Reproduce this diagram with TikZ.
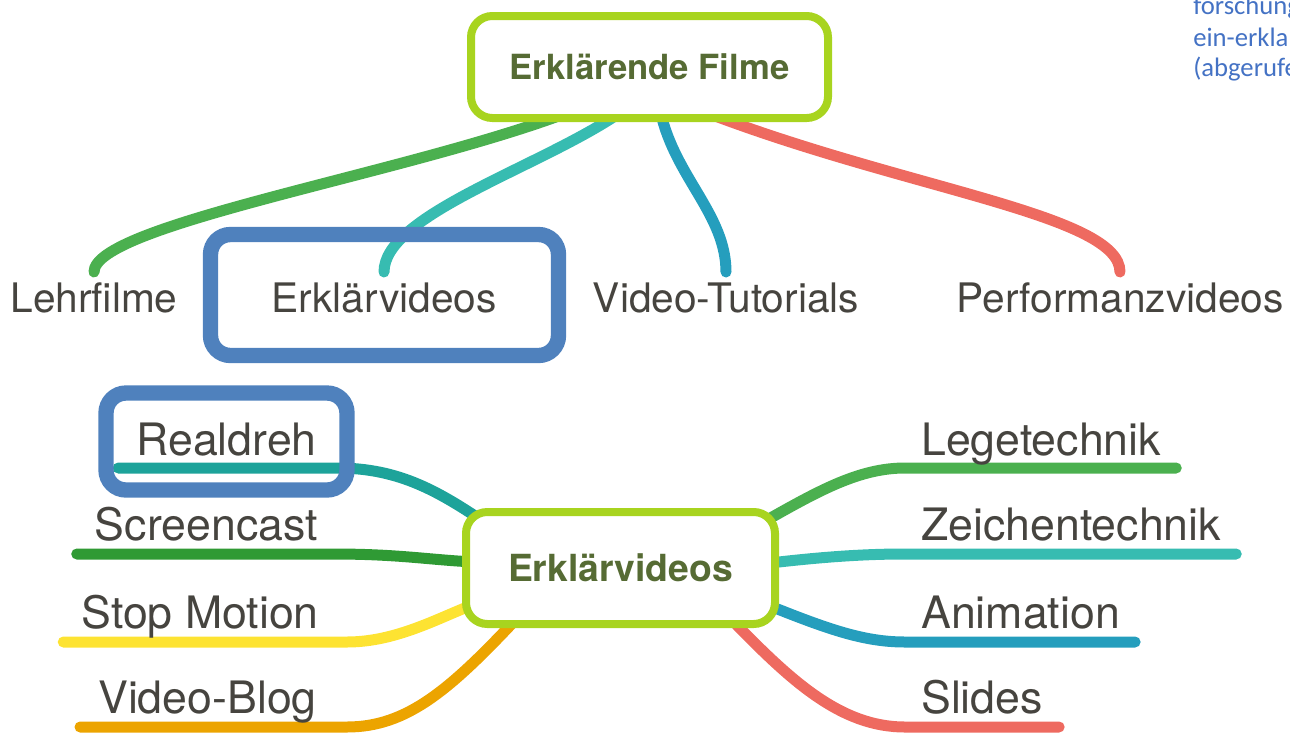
\documentclass[tikz,border=0pt]{standalone}
\usepackage{fontspec}
\setmainfont{TeX Gyre Heros}
\newfontfamily\notefont{Carlito}
\usetikzlibrary{positioning,calc,backgrounds}
\definecolor{cLime}{HTML}{A8D41F}
\definecolor{cHead}{HTML}{566B34}
\definecolor{cText}{HTML}{46443F}
\definecolor{cGreen}{HTML}{4BB04F}
\definecolor{cTeal}{HTML}{37BCB1}
\definecolor{cBlue}{HTML}{259EBD}
\definecolor{cRed}{HTML}{EE6A60}
\definecolor{cReal}{HTML}{1DA39A}
\definecolor{cScr}{HTML}{2F9A34}
\definecolor{cYel}{HTML}{FDE332}
\definecolor{cOra}{HTML}{ECA400}
\definecolor{cMark}{HTML}{4F81BD}
\definecolor{cNote}{HTML}{4472C4}
\tikzset{
box/.style={rectangle,draw=cLime,line width=6pt,fill=white,rounded corners=16pt,
  text=cHead,font=\fontsize{26}{31}\selectfont\bfseries},
lbl/.style={inner sep=0pt,text=cText,font=\fontsize{30.5}{36}\selectfont},
sub/.style={inner sep=0pt,text=cText,font=\fontsize{33.5}{40}\selectfont},
br/.style={line width=8.25pt,line cap=round},
hl/.style={rectangle,draw=cMark,line width=11.5pt,rounded corners=15pt,inner sep=0pt},
note/.style={inner sep=0pt,anchor=base west,text=cNote,font=\notefont\fontsize{20}{24}\selectfont},
}
\begin{document}
\begin{tikzpicture}[x=0.75pt,y=-0.75pt]
\path[use as bounding box,clip] (0,0) rectangle (1290,733);

% main boxes
\node[box,minimum width=267.75pt,minimum height=76.5pt] (top) at (649.5,67) {Erklärende Filme};
\node[box,minimum width=231.75pt,minimum height=84pt,font=\fontsize{28}{33}\selectfont\bfseries] (ev) at (620.5,568) {Erklärvideos};

% upper row
\node[lbl,anchor=base] (lehr) at (94,312) {Lehrfilme};
\node[lbl,anchor=base] (erkl) at (384,312) {Erklärvideos};
\node[lbl,anchor=base] (tut) at (726,312) {Video-Tutorials};
\node[lbl,anchor=base] (perf) at (1120,312) {Performanzvideos};

% lower branches
\node[sub,anchor=base east] (real) at (317,455) {Realdreh};
\node[sub,anchor=base east] (scr) at (318,540) {Screencast};
\node[sub,anchor=base east] (stop) at (319,628) {Stop Motion};
\node[sub,anchor=base east] (blog) at (317,713) {Video-Blog};
\node[sub,anchor=base west] (lege) at (921,455) {Legetechnik};
\node[sub,anchor=base west] (zei) at (921,540) {Zeichentechnik};
\node[sub,anchor=base west] (ani) at (921,628) {Animation};
\node[sub,anchor=base west] (sli) at (921,713) {Slides};

\begin{scope}[on background layer]
\draw[br,cGreen] ($(top.south)+(-85.5,-8)$) .. controls +(-164,61) and +(0,-47) .. ($(lehr.base)+(0,-40)$);
\draw[br,cTeal] ($(top.south)+(-31.5,-8)$) .. controls +(-80,54) and +(0,-57) .. ($(erkl.base)+(0,-40)$);
\draw[br,cBlue] ($(top.south)+(11.5,-8)$) .. controls +(15,64) and +(0,-57) .. ($(tut.base)+(0,-40)$);
\draw[br,cRed] ($(top.south)+(60.5,-8)$) .. controls +(200,76) and +(0,-57) .. ($(perf.base)+(0,-40)$);

\draw[br,cReal] ($(real.base west)+(-18,13)$) -- ($(real.base east)+(20,13)$) .. controls +(63,0) and +(-50,-34) .. ($(ev.west)+(28,-42)$);
\draw[br,cScr] ($(scr.base west)+(-18,14)$) -- ($(scr.base east)+(15,14)$) .. controls +(67,0) and +(-45,-2) .. ($(ev.west)+(13,-6)$);
\draw[br,cYel] ($(stop.base west)+(-18,14)$) -- ($(stop.base east)+(28,14)$) .. controls +(50,0) and +(-35,13) .. ($(ev.west)+(13,36)$);
\draw[br,cOra] ($(blog.base west)+(-18,14)$) -- ($(blog.base east)+(30,14)$) .. controls +(60,0) and +(-70,75) .. ($(ev.west)+(58,47)$);

\draw[br,cGreen] ($(ev.east)+(-12,-48)$) .. controls +(53,-30) and +(-45,0) .. ($(lege.base west)+(-16,13)$) -- ($(lege.base east)+(15,13)$);
\draw[br,cTeal] ($(ev.east)+(-9,-5)$) .. controls +(60,-7) and +(-35,0) .. ($(zei.base west)+(-16,14)$) -- ($(zei.base east)+(15,14)$);
\draw[br,cBlue] ($(ev.east)+(-9,38)$) .. controls +(60,24) and +(-40,0) .. ($(ani.base west)+(-16,14)$) -- ($(ani.base east)+(15,14)$);
\draw[br,cRed] ($(ev.east)+(-49,50)$) .. controls +(60,62) and +(-65,0) .. ($(sli.base west)+(-16,14)$) -- ($(sli.base east)+(16,14)$);
\end{scope}

% highlights
\node[hl,minimum width=261pt,minimum height=90.75pt] (mark1) at (384.5,295) {};
\node[hl,minimum width=180.75pt,minimum height=72.75pt] (mark2) at (226.5,441.5) {};

% source note, cut at the edge
\node[note] (src1) at (1193,14) {forschung};
\node[note] (src2) at (1193,46) {ein-erkla};
\node[note] (src3) at (1193,76) {(abgerufe};
\end{tikzpicture}
\end{document}
